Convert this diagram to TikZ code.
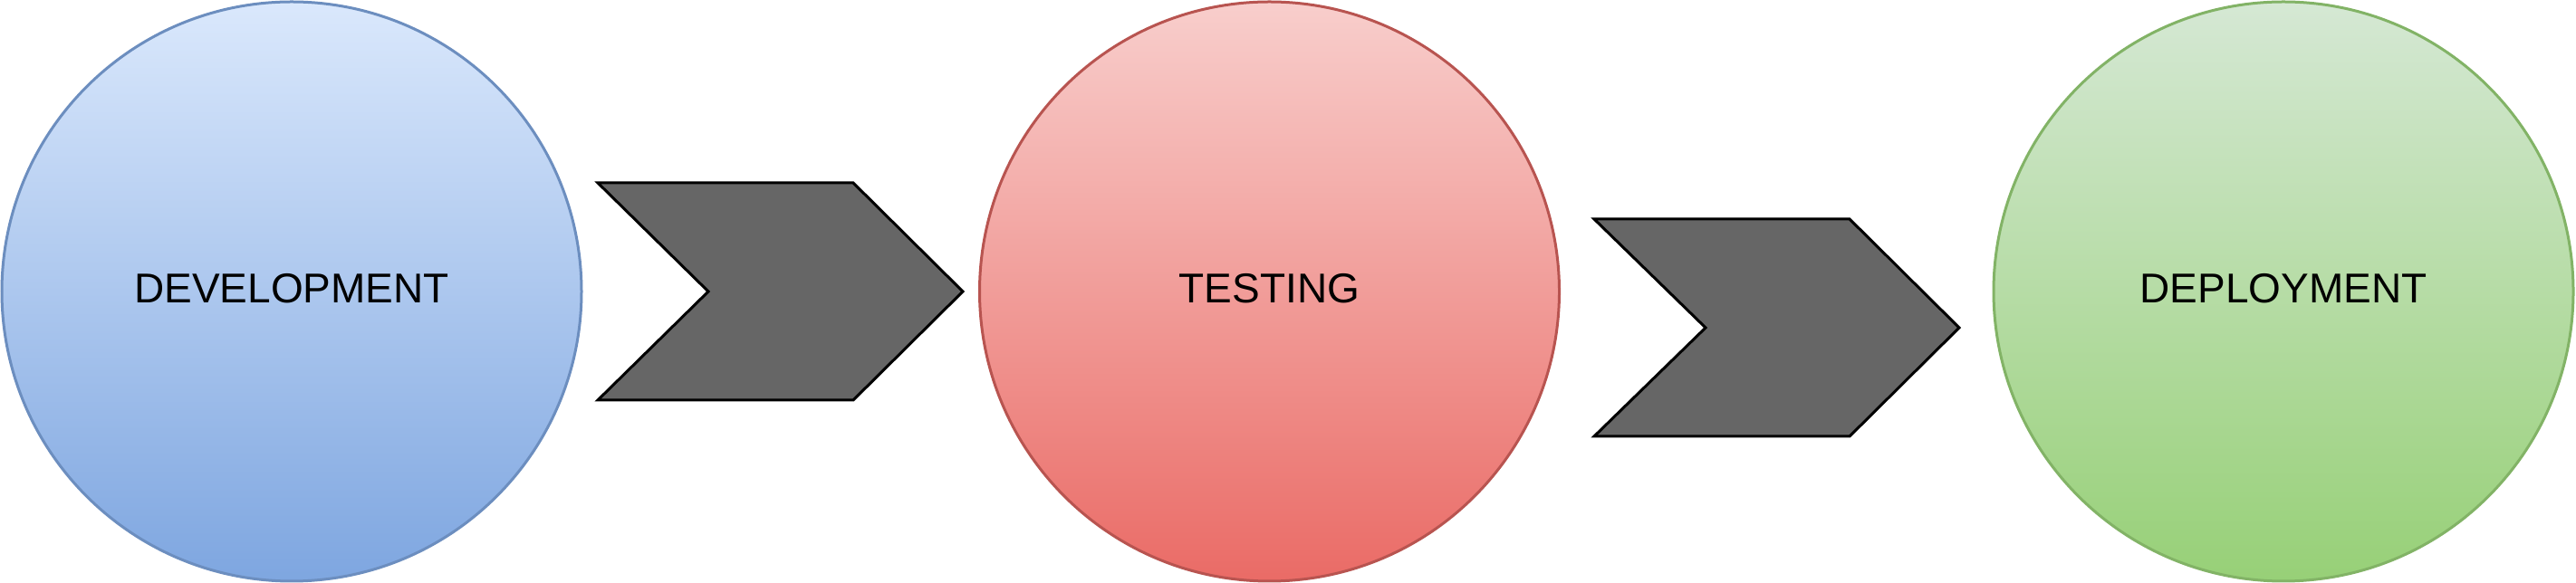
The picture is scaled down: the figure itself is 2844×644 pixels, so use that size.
\documentclass[tikz,border=0pt]{standalone}
\usepackage{fontspec}
\setmainfont{Liberation Sans}
\definecolor{bluetop}{HTML}{DAE8FC}
\definecolor{bluebot}{HTML}{7EA6E0}
\definecolor{bluestroke}{HTML}{6C8EBF}
\definecolor{redtop}{HTML}{F8CECC}
\definecolor{redbot}{HTML}{EA6B66}
\definecolor{redstroke}{HTML}{B85450}
\definecolor{greentop}{HTML}{D5E8D4}
\definecolor{greenbot}{HTML}{97D077}
\definecolor{greenstroke}{HTML}{82B366}
\definecolor{chevfill}{HTML}{666666}
\tikzset{
  phase/.style={circle, minimum size=640pt, inner sep=0pt, outer sep=0pt,
    line width=3pt, font=\fontsize{46}{55}\selectfont,
    text height=33pt, text depth=7pt},
  chevron/.style={fill=chevfill, draw=black, line width=3pt, line join=miter}
}
\begin{document}
\begin{tikzpicture}[x=1pt,y=1pt]
\useasboundingbox (0,0) rectangle (2844,644);
\node[phase, draw=bluestroke, top color=bluetop, bottom color=bluebot] (dev) at (322,322) {DEVELOPMENT};
\node[phase, draw=redstroke, top color=redtop, bottom color=redbot] (test) at (1401.5,322) {TESTING};
\node[phase, draw=greenstroke, top color=greentop, bottom color=greenbot] (dep) at (2521,322) {DEPLOYMENT};
\draw[chevron] (660,442) -- (942,442) -- (1063,322) -- (942,202) -- (660,202) -- (782,322) -- cycle;
\draw[chevron] (1760,402) -- (2042,402) -- (2163,282) -- (2042,162) -- (1760,162) -- (1883,282) -- cycle;
\end{tikzpicture}
\end{document}
